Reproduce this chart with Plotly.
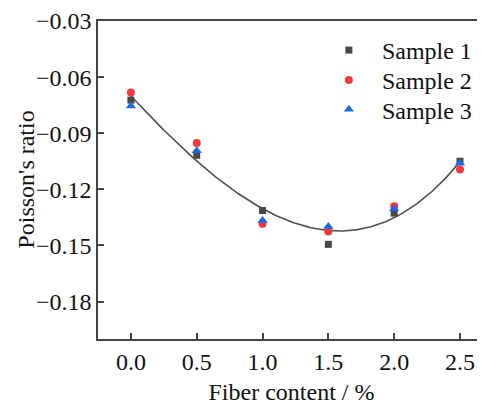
import numpy as np
import plotly.graph_objects as go

fiber = [0.0, 0.5, 1.0, 1.5, 2.0, 2.5]
sample1 = [-0.0723, -0.1018, -0.1313, -0.1494, -0.1327, -0.1050]
sample2 = [-0.0682, -0.0952, -0.1384, -0.1425, -0.1290, -0.1094]
sample3 = [-0.0755, -0.0993, -0.1366, -0.1398, -0.1304, -0.1061]
y_ticks = [-0.18, -0.15, -0.12, -0.09, -0.06, -0.03]
y_tick_text = ["\u22120.18", "\u22120.15", "\u22120.12", "\u22120.09", "\u22120.06", "\u22120.03"]
x_ticks = [0.0, 0.5, 1.0, 1.5, 2.0, 2.5]
x_tick_text = ["0.0", "0.5", "1.0", "1.5", "2.0", "2.5"]

# polynomial fit through all samples
all_x = np.array(fiber * 3)
all_y = np.array(sample1 + sample2 + sample3)
coef = np.polyfit(all_x, all_y, 3)
xs = np.linspace(min(fiber), max(fiber), 200)
ys = np.polyval(coef, xs)

FONT = "Liberation Serif"
FS = 24

fig = go.Figure()
fig.add_trace(go.Scatter(x=xs, y=ys, mode="lines", line=dict(color="#505050", width=1.6),
                         showlegend=False, hoverinfo="skip"))
fig.add_trace(go.Scatter(x=fiber, y=sample1, mode="markers", name="Sample 1", legend="legend",
                         marker=dict(symbol="square", size=7, color="#484848")))
fig.add_trace(go.Scatter(x=fiber, y=sample2, mode="markers", name="Sample 2", legend="legend2",
                         marker=dict(symbol="circle", size=8, color="#f03a3a")))
fig.add_trace(go.Scatter(x=fiber, y=sample3, mode="markers", name="Sample 3", legend="legend3",
                         marker=dict(symbol="triangle-up", size=9, color="#1a6ae0")))

def leg(y):
    return dict(x=0.563, y=y, xanchor="left", yanchor="top", bgcolor="rgba(0,0,0,0)",
                font=dict(family=FONT, size=FS), itemwidth=56)

# page body has an 8px margin, so the figure is 8px smaller and margins shifted
fig.update_layout(
    width=477, height=397,
    margin=dict(l=90, r=0, t=13, b=66, autoexpand=False),
    paper_bgcolor="white", plot_bgcolor="white",
    font=dict(family=FONT, size=FS, color="#111"),
    legend=leg(0.978), legend2=leg(0.884), legend3=leg(0.792),
    xaxis=dict(range=[-0.25, 2.69], tickvals=x_ticks, ticktext=x_tick_text,
               showgrid=False, zeroline=False, showline=True, linecolor="#444",
               linewidth=1.5, mirror=True, ticks="inside", ticklen=6, tickwidth=1.5,
               tickcolor="#444", automargin=False,
               tickfont=dict(family=FONT, size=FS),
               title=dict(text="Fiber content / %", standoff=10, font=dict(family=FONT, size=FS))),
    yaxis=dict(range=[-0.20, -0.03], tickvals=y_ticks, ticktext=y_tick_text,
               showgrid=False, zeroline=False, showline=True, linecolor="#444",
               linewidth=1.5, mirror=True, ticks="inside", ticklen=6, tickwidth=1.5,
               tickcolor="#444", automargin=False,
               tickfont=dict(family=FONT, size=FS)),
    annotations=[dict(text="Poisson's ratio", textangle=-90, xref="paper", yref="paper",
                      x=-0.187, y=0.5, xanchor="center", yanchor="middle", showarrow=False,
                      font=dict(family=FONT, size=FS))],
)

fig.write_html("out.html")
